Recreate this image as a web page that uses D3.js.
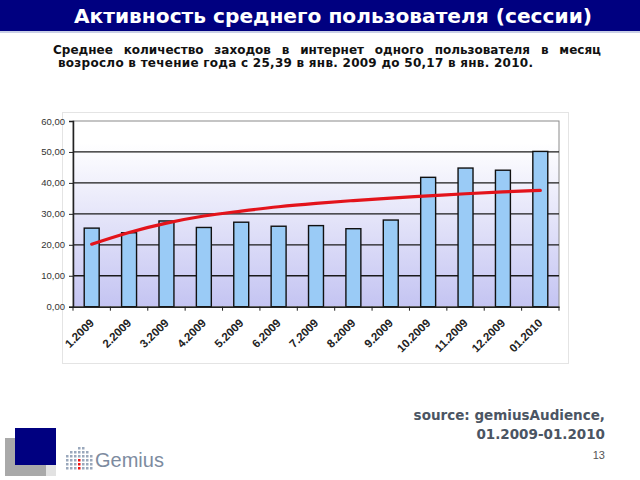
<!DOCTYPE html>
<html>
<head>
<meta charset="utf-8">
<script src="https://cdn.jsdelivr.net/npm/d3@7"></script>
<style>
	body {margin: 0; background: #fff;}
	svg {display: block;}
</style>
</head>
<body>
<svg width="640" height="480"></svg>
<script>
'use strict';
// data
let aMonths = ["1.2009", "2.2009", "3.2009", "4.2009", "5.2009", "6.2009", "7.2009",
	"8.2009", "9.2009", "10.2009", "11.2009", "12.2009", "01.2010"]
let aSessions = [25.39, 23.9, 27.7, 25.6, 27.3, 26.0, 26.2, 25.2, 28.0, 41.8, 44.8, 44.1, 50.17]
let aTrend = [20.2, 24.0, 27.0, 29.3, 30.9, 32.3, 33.4, 34.3, 35.1, 35.8, 36.5, 37.1, 37.6]
let aYTicks = [0, 10, 20, 30, 40, 50, 60]

let sTitle = "Активность среднего пользователя (сессии)"
let aSubLines = ["Среднее количество заходов в интернет одного пользователя в месяц",
	"возросло в течение года с 25,39 в янв. 2009 до 50,17 в янв. 2010."]

let eSvg = d3.select("svg")
let sFont = "Verdana, 'DejaVu Sans', sans-serif"
let sSmall = "Arial, 'Liberation Sans', sans-serif"

// title bar
eSvg.append("rect").attr("x", 0).attr("y", 0).attr("width", 640).attr("height", 32).attr("fill", "#000080")
eSvg.append("rect").attr("x", 0).attr("y", 31).attr("width", 640).attr("height", 2).attr("fill", "#c9cfe6")
eSvg.append("text").attr("x", 333).attr("y", 23)
	.attr("text-anchor", "middle")
	.attr("font-family", "'DejaVu Sans', sans-serif").attr("font-weight", "bold").attr("font-size", 19)
	.attr("fill", "#fff")
	.attr("textLength", 518).attr("lengthAdjust", "spacingAndGlyphs")
	.text(sTitle)

// subtitle, first line justified by spreading words
function justify(sLine, x0, x1, y) {
	let aWords = sLine.split(" ")
	let g = eSvg.append("g")
	let eWords = g.selectAll("text").data(aWords).enter().append("text")
		.attr("y", y)
		.attr("font-family", sFont).attr("font-weight", "bold").attr("font-size", 12)
		.attr("fill", "#111")
		.text(d => d)
	let aW = eWords.nodes().map(n => n.getComputedTextLength())
	let total = d3.sum(aW)
	let gap = (x1 - x0 - total) / (aWords.length - 1)
	let x = x0
	eWords.attr("x", (d, i) => {let r = x; x += aW[i] + gap; return r})
}
justify(aSubLines[0], 53, 601, 54)
eSvg.append("text").attr("x", 58).attr("y", 67)
	.attr("font-family", sFont).attr("font-weight", "bold").attr("font-size", 12)
	.attr("fill", "#111")
	.attr("textLength", 475).attr("lengthAdjust", "spacing")
	.text(aSubLines[1])

// chart frame
eSvg.append("rect").attr("x", 62.5).attr("y", 112.5).attr("width", 506).attr("height", 251)
	.attr("fill", "#fff").attr("stroke", "#e4e4e4")

let dLeft = 73, dRight = 559, dTop = 121, dBottom = 306.7

let xScale = d3.scaleBand().domain(aMonths).range([dLeft, dRight]).paddingInner(0.6).paddingOuter(0.3)
let xBand = d3.scaleBand().domain(aMonths).range([dLeft, dRight])
let yScale = d3.scaleLinear().domain([0, 60]).range([dBottom, dTop])

// plot background gradient
let eGrad = eSvg.append("defs").append("linearGradient").attr("id", "bg")
	.attr("x1", 0).attr("y1", 0).attr("x2", 0).attr("y2", 1)
eGrad.append("stop").attr("offset", "12%").attr("stop-color", "#ffffff")
eGrad.append("stop").attr("offset", "100%").attr("stop-color", "#c4c4f2")
eSvg.append("rect").attr("x", dLeft).attr("y", dTop).attr("width", dRight - dLeft).attr("height", dBottom - dTop)
	.attr("fill", "url(#bg)").attr("stroke", "#8a8a8a")

// gridlines
eSvg.append("g").selectAll("line").data(aYTicks.slice(1, -1)).enter().append("line")
	.attr("x1", dLeft).attr("x2", dRight)
	.attr("y1", d => yScale(d)).attr("y2", d => yScale(d))
	.attr("stroke", "#1a1a1a").attr("stroke-width", 1.3)

// bars
eSvg.append("g").selectAll("rect").data(aSessions).enter().append("rect")
	.attr("x", (d, i) => xScale(aMonths[i]))
	.attr("width", xScale.bandwidth())
	.attr("y", d => yScale(d))
	.attr("height", d => yScale(0) - yScale(d))
	.attr("fill", "#9acbf6").attr("stroke", "#111").attr("stroke-width", 1.4)

// trend line
let fLine = d3.line()
	.x((d, i) => xBand(aMonths[i]) + xBand.bandwidth() / 2)
	.y(d => yScale(d))
	.curve(d3.curveMonotoneX)
eSvg.append("path").attr("d", fLine(aTrend))
	.attr("fill", "none").attr("stroke", "#e3131b").attr("stroke-width", 3.2).attr("stroke-linecap", "round")

// y axis
let gY = eSvg.append("g").attr("transform", `translate(${dLeft},0)`)
	.call(d3.axisLeft(yScale).tickValues(aYTicks).tickSize(4).tickPadding(4)
		.tickFormat(d => d3.format(".2f")(d).replace(".", ",")))
gY.select(".domain").attr("stroke", "#222").attr("stroke-width", 1.5)
gY.selectAll(".tick line").attr("stroke", "#222")
gY.selectAll("text").attr("font-family", sSmall).attr("font-size", 9.5).attr("fill", "#333")

// x axis
let gX = eSvg.append("g").attr("transform", `translate(0,${dBottom})`)
	.call(d3.axisBottom(xBand).tickSize(0).tickSizeOuter(0))
gX.select(".domain").attr("stroke", "#222").attr("stroke-width", 1.5)
gX.selectAll(".tick text")
	.attr("font-family", sSmall).attr("font-size", 11.5).attr("font-weight", "bold")
	.attr("fill", "#222")
	.attr("text-anchor", "end")
	.attr("y", 0).attr("dy", 0)
	.attr("transform", "translate(3,17) rotate(-45)")
gX.append("g").selectAll("line").data(aMonths.concat(["end"])).enter().append("line")
	.attr("x1", (d, i) => dLeft + i * xBand.step()).attr("x2", (d, i) => dLeft + i * xBand.step())
	.attr("y1", 0).attr("y2", 4).attr("stroke", "#222")

// source note
let gSrc = eSvg.append("g").attr("font-family", sFont).attr("font-weight", "bold").attr("fill", "#4b5563")
	.attr("font-size", 13.5).attr("text-anchor", "end")
gSrc.append("text").attr("x", 605).attr("y", 420).text("source: gemiusAudience,")
gSrc.append("text").attr("x", 605).attr("y", 439).text("01.2009-01.2010")
eSvg.append("text").attr("x", 605).attr("y", 459).attr("text-anchor", "end")
	.attr("font-family", sSmall).attr("font-size", 11).attr("fill", "#555").text("13")

// logo
eSvg.append("rect").attr("x", 5).attr("y", 438).attr("width", 41).attr("height", 38).attr("fill", "#a9a9a9")
eSvg.append("rect").attr("x", 46).attr("y", 462).attr("width", 10).attr("height", 14).attr("fill", "#e2e2e2")
eSvg.append("rect").attr("x", 15).attr("y", 428).attr("width", 41).attr("height", 37).attr("fill", "#000080")
let aDotCols = [4, 5, 5, 6, 6, 5, 4]
let gDots = eSvg.append("g")
aDotCols.forEach((n, c) => {
	for (let r = 0; r < n; r++) {
		gDots.append("rect").attr("x", 66 + c * 4).attr("y", 467 - r * 4).attr("width", 2.5).attr("height", 2.5)
			.attr("fill", (c === 3 && r < 3) ? "#e11" : "#9aa8bc")
	}
})
eSvg.append("text").attr("x", 95).attr("y", 467)
	.attr("font-family", sSmall).attr("font-size", 20).attr("fill", "#7d8ba0")
	.text("Gemius")
</script>
</body>
</html>
